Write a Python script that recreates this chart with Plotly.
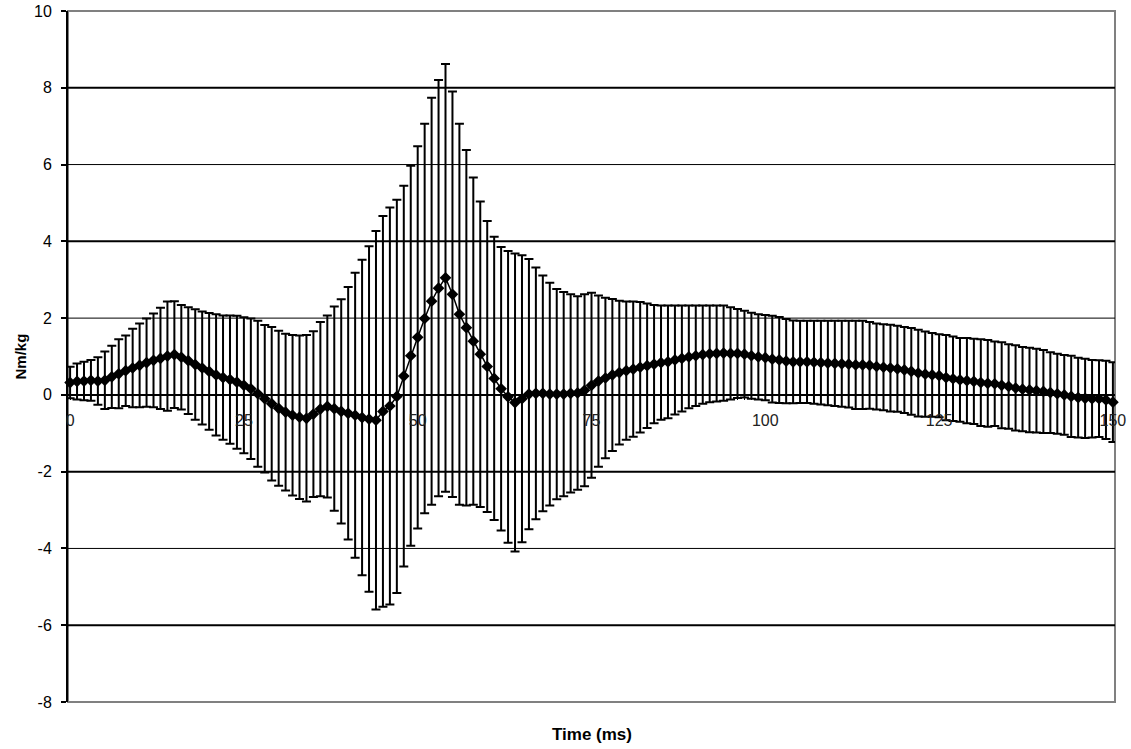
import numpy as np
import plotly.graph_objects as go

# ---- data ----
time_ms = list(range(0, 151))

mean = [
    0.32, 0.35, 0.36, 0.38, 0.36, 0.38, 0.47, 0.55, 0.63, 0.70,
    0.77, 0.84, 0.90, 0.95, 1.01, 1.05, 0.98, 0.89, 0.79, 0.70,
    0.61, 0.52, 0.45, 0.40, 0.33, 0.25, 0.16, 0.03, -0.10, -0.23,
    -0.35, -0.45, -0.53, -0.58, -0.61, -0.50, -0.37, -0.30, -0.36, -0.43,
    -0.48, -0.53, -0.59, -0.63, -0.66, -0.43, -0.29, -0.04, 0.49, 1.02,
    1.50, 1.99, 2.44, 2.78, 3.05, 2.62, 2.10, 1.75, 1.40, 1.06,
    0.74, 0.43, 0.16, -0.05, -0.20, -0.10, 0.02, 0.04, 0.04, 0.02,
    0.02, 0.02, 0.04, 0.05, 0.12, 0.25, 0.36, 0.44, 0.52, 0.58,
    0.63, 0.67, 0.72, 0.76, 0.80, 0.84, 0.86, 0.91, 0.95, 0.99,
    1.02, 1.05, 1.07, 1.08, 1.09, 1.08, 1.08, 1.06, 1.02, 0.99,
    0.97, 0.93, 0.91, 0.88, 0.86, 0.86, 0.86, 0.85, 0.84, 0.83,
    0.82, 0.81, 0.80, 0.78, 0.78, 0.77, 0.74, 0.72, 0.70, 0.68,
    0.65, 0.61, 0.57, 0.54, 0.52, 0.50, 0.45, 0.42, 0.39, 0.37,
    0.35, 0.32, 0.30, 0.29, 0.25, 0.22, 0.18, 0.15, 0.13, 0.11,
    0.09, 0.06, 0.03, 0.00, -0.04, -0.07, -0.09, -0.10, -0.10, -0.13,
    -0.19,
]

upper = [
    0.73, 0.82, 0.86, 0.91, 0.98, 1.13, 1.28, 1.45, 1.55, 1.72,
    1.86, 1.99, 2.12, 2.27, 2.43, 2.44, 2.34, 2.28, 2.23, 2.17,
    2.13, 2.10, 2.07, 2.07, 2.06, 2.02, 1.99, 1.93, 1.82, 1.77,
    1.67, 1.59, 1.56, 1.55, 1.56, 1.66, 1.90, 2.07, 2.30, 2.49,
    2.81, 3.18, 3.52, 3.87, 4.27, 4.66, 4.88, 5.08, 5.45, 5.97,
    6.48, 7.06, 7.74, 8.20, 8.62, 7.90, 7.06, 6.38, 5.66, 5.04,
    4.53, 4.12, 3.85, 3.75, 3.68, 3.64, 3.54, 3.32, 3.11, 2.92,
    2.76, 2.68, 2.62, 2.57, 2.62, 2.66, 2.59, 2.53, 2.50, 2.45,
    2.43, 2.43, 2.42, 2.38, 2.34, 2.33, 2.33, 2.33, 2.33, 2.33,
    2.33, 2.33, 2.33, 2.33, 2.33, 2.28, 2.24, 2.19, 2.14, 2.10,
    2.08, 2.06, 2.03, 1.98, 1.94, 1.93, 1.93, 1.93, 1.93, 1.93,
    1.93, 1.93, 1.93, 1.93, 1.93, 1.90, 1.86, 1.84, 1.83, 1.80,
    1.77, 1.74, 1.70, 1.65, 1.61, 1.58, 1.56, 1.52, 1.48, 1.48,
    1.46, 1.45, 1.43, 1.39, 1.37, 1.32, 1.29, 1.25, 1.23, 1.20,
    1.17, 1.11, 1.07, 1.04, 1.02, 0.97, 0.94, 0.91, 0.90, 0.89,
    0.85,
]

x_tick_vals = [0, 25, 50, 75, 100, 125, 150]
y_tick_vals = [-8, -6, -4, -2, 0, 2, 4, 6, 8, 10]
y_tick_text = ["-8", "-6", "-4", "-2", "0", "2", "4", "6", "8", "10"]
grid_vals = [8, 6, 4, 2, -2, -4, -6]
grid_widths = [2, 1, 2, 1, 2, 1, 2]

sd = (np.array(upper) - np.array(mean)).tolist()

FONT = "Liberation Sans, Arial, sans-serif"

fig = go.Figure()
fig.add_trace(go.Scatter(
    x=time_ms, y=mean, mode="lines+markers",
    line=dict(color="black", width=1.5),
    marker=dict(symbol="diamond", size=9, color="black"),
    error_y=dict(type="data", array=sd, visible=True, color="black",
                 thickness=2, width=4.5),
    showlegend=False, cliponaxis=False,
))

shapes = [dict(type="rect", xref="paper", yref="paper", x0=0, x1=1, y0=0, y1=1,
               line=dict(color="#808080", width=2), layer="below")]
for gv, gw in zip(grid_vals, grid_widths):
    shapes.append(dict(type="line", xref="paper", yref="y", x0=0, x1=1, y0=gv, y1=gv,
                       line=dict(color="black", width=gw), layer="below"))

fig.update_layout(
    width=1131, height=749,
    margin=dict(l=68, r=16, t=11, b=47, autoexpand=False),
    paper_bgcolor="white", plot_bgcolor="white",
    font=dict(family=FONT, size=15, color="black"),
    shapes=shapes,
    xaxis=dict(
        range=[-0.3, 150.3], tickvals=x_tick_vals, ticktext=[str(v) for v in x_tick_vals],
        showgrid=False, zeroline=False, showline=True, linecolor="black", linewidth=2,
        anchor="free", position=8/18, automargin=False,
        ticks="outside", ticklen=4, tickwidth=1, tickcolor="black",
        minor=dict(ticks="outside", ticklen=4, tickwidth=1, tickcolor="black",
                   dtick=1, tick0=0, showgrid=False),
        tickfont=dict(family=FONT, size=16, color="#222222"),
        ticklabelstandoff=7,
        layer="above traces",
    ),
    yaxis=dict(
        range=[-8, 10], tickvals=y_tick_vals, ticktext=y_tick_text,
        showgrid=False, zeroline=False, showline=True, linecolor="black", linewidth=2,
        automargin=False,
        ticks="outside", ticklen=5, tickwidth=2, tickcolor="black",
        tickfont=dict(family=FONT, size=16, color="black"),
        ticklabelstandoff=6,
    ),
    annotations=[
        dict(text="<b>Time (ms)</b>", xref="paper", yref="paper", x=0.5, y=-(734 - 702) / 691,
             xanchor="center", yanchor="middle", showarrow=False,
             font=dict(family=FONT, size=17, color="black")),
        dict(text="<b>Nm/kg</b>", xref="paper", yref="paper", x=(20 - 68) / 1047, y=0.5,
             xanchor="center", yanchor="middle", showarrow=False, textangle=-90,
             font=dict(family=FONT, size=15, color="black")),
    ],
)

fig.write_html("out.html")
